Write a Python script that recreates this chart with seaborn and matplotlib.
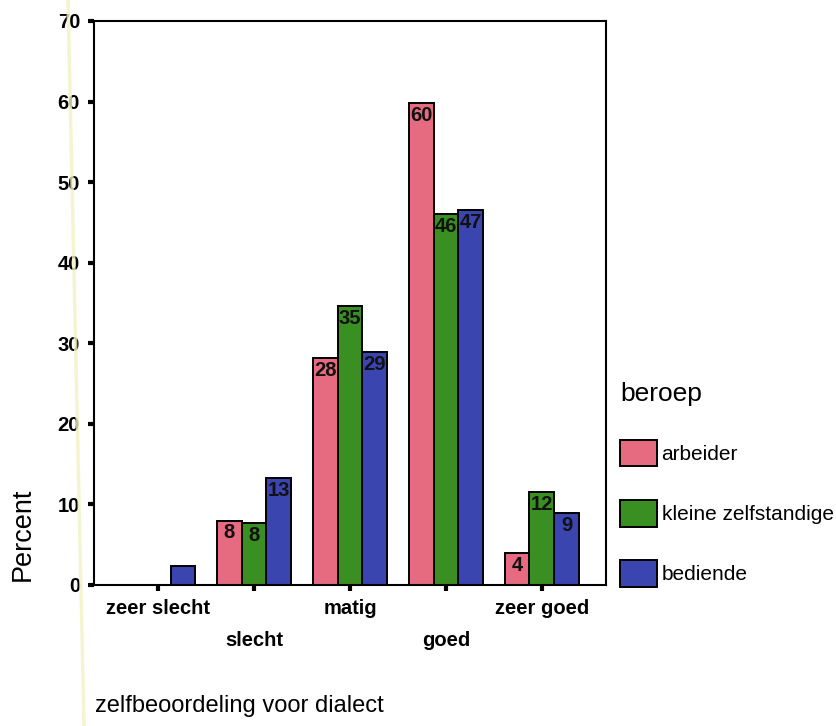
import pandas as pd
import numpy as np
import matplotlib
matplotlib.use('Agg')
import matplotlib.pyplot as plt
from matplotlib.lines import Line2D
import seaborn as sns

# Data (percent per occupation group)
categories = ['zeer slecht', 'slecht', 'matig', 'goed', 'zeer goed']
groups = ['arbeider', 'kleine zelfstandige', 'bediende']
arbeider = [0, 8.0, 28.2, 59.8, 4.0]
kleine_zelfstandige = [0, 7.7, 34.6, 46.0, 11.5]
bediende = [2.3, 13.3, 28.9, 46.5, 8.9]
bar_labels = {
    'arbeider': ['', '8', '28', '60', '4'],
    'kleine zelfstandige': ['', '8', '35', '46', '12'],
    'bediende': ['', '13', '29', '47', '9'],
}
colors = ['#E66A80', '#3A8F22', '#3A45B0']

df = pd.DataFrame({
    'zelfbeoordeling': categories * 3,
    'beroep': np.repeat(groups, len(categories)),
    'Percent': arbeider + kleine_zelfstandige + bediende,
})

sns.set_style('white')
plt.rcParams['font.family'] = ['Liberation Sans', 'DejaVu Sans']
plt.rcParams['text.color'] = 'black'
plt.rcParams['axes.labelcolor'] = 'black'
plt.rcParams['xtick.color'] = 'black'
plt.rcParams['ytick.color'] = 'black'

fig = plt.figure(figsize=(8.37, 7.26), dpi=100)
ax = fig.add_axes([94 / 837, 1 - 585 / 726, 512 / 837, 564 / 726])

sns.barplot(data=df, x='zelfbeoordeling', y='Percent', hue='beroep',
            order=categories, hue_order=groups, palette=colors,
            width=0.78, gap=0, edgecolor='black', linewidth=1.4,
            saturation=1, ax=ax)

# value labels just inside the top of each bar
for cont, g in zip(ax.containers, groups):
    for patch, lab in zip(cont, bar_labels[g]):
        if not lab:
            continue
        x = patch.get_x() + patch.get_width() / 2
        ax.annotate(lab, (x, patch.get_height()), xytext=(0, -2),
                    textcoords='offset points', ha='center', va='top',
                    fontsize=14.5, fontweight='bold', color='#111111')

ax.set_ylim(0, 70)
ax.set_xlim(-0.667, 4.667)
ax.set_yticks(range(0, 71, 10))
for s in ax.spines.values():
    s.set_visible(True)
    s.set_color('black')
    s.set_linewidth(1.5)

ax.tick_params(axis='both', direction='out', length=4, width=3,
               color='black', labelsize=14.5, left=True, bottom=True)
ax.tick_params(axis='y', pad=6)
for t in ax.get_yticklabels() + ax.get_xticklabels():
    t.set_fontweight('bold')

# staggered category labels
for i, tick in enumerate(ax.xaxis.get_major_ticks()):
    tick.set_pad(6 if i % 2 == 0 else 29)

ax.set_ylabel('Percent', fontsize=19.5)
ax.yaxis.set_label_coords(-0.113, 0.089)
ax.set_xlabel('zelfbeoordeling voor dialect', fontsize=17, ha='left')
ax.xaxis.set_label_coords(0.002, -0.195)

handles, labels = ax.get_legend_handles_labels()
ax.get_legend().remove()
leg = fig.legend(handles, labels, title='beroep', loc='upper left',
                 bbox_to_anchor=(612 / 837, 1 - 374 / 726), frameon=False,
                 fontsize=15, title_fontsize=19, handlelength=1.78,
                 handleheight=1.6, handletextpad=0.2, labelspacing=1.6,
                 alignment='left', borderaxespad=0)
for h in leg.legend_handles:
    h.set_edgecolor('black')
    h.set_linewidth(1.4)

# faint scanner streak at the left edge
fig.add_artist(Line2D([68 / 837, 84 / 837], [1, 0], transform=fig.transFigure,
                      color='#F2F2C6', lw=2.5, alpha=0.8))

fig.savefig('out.png', dpi=100)
